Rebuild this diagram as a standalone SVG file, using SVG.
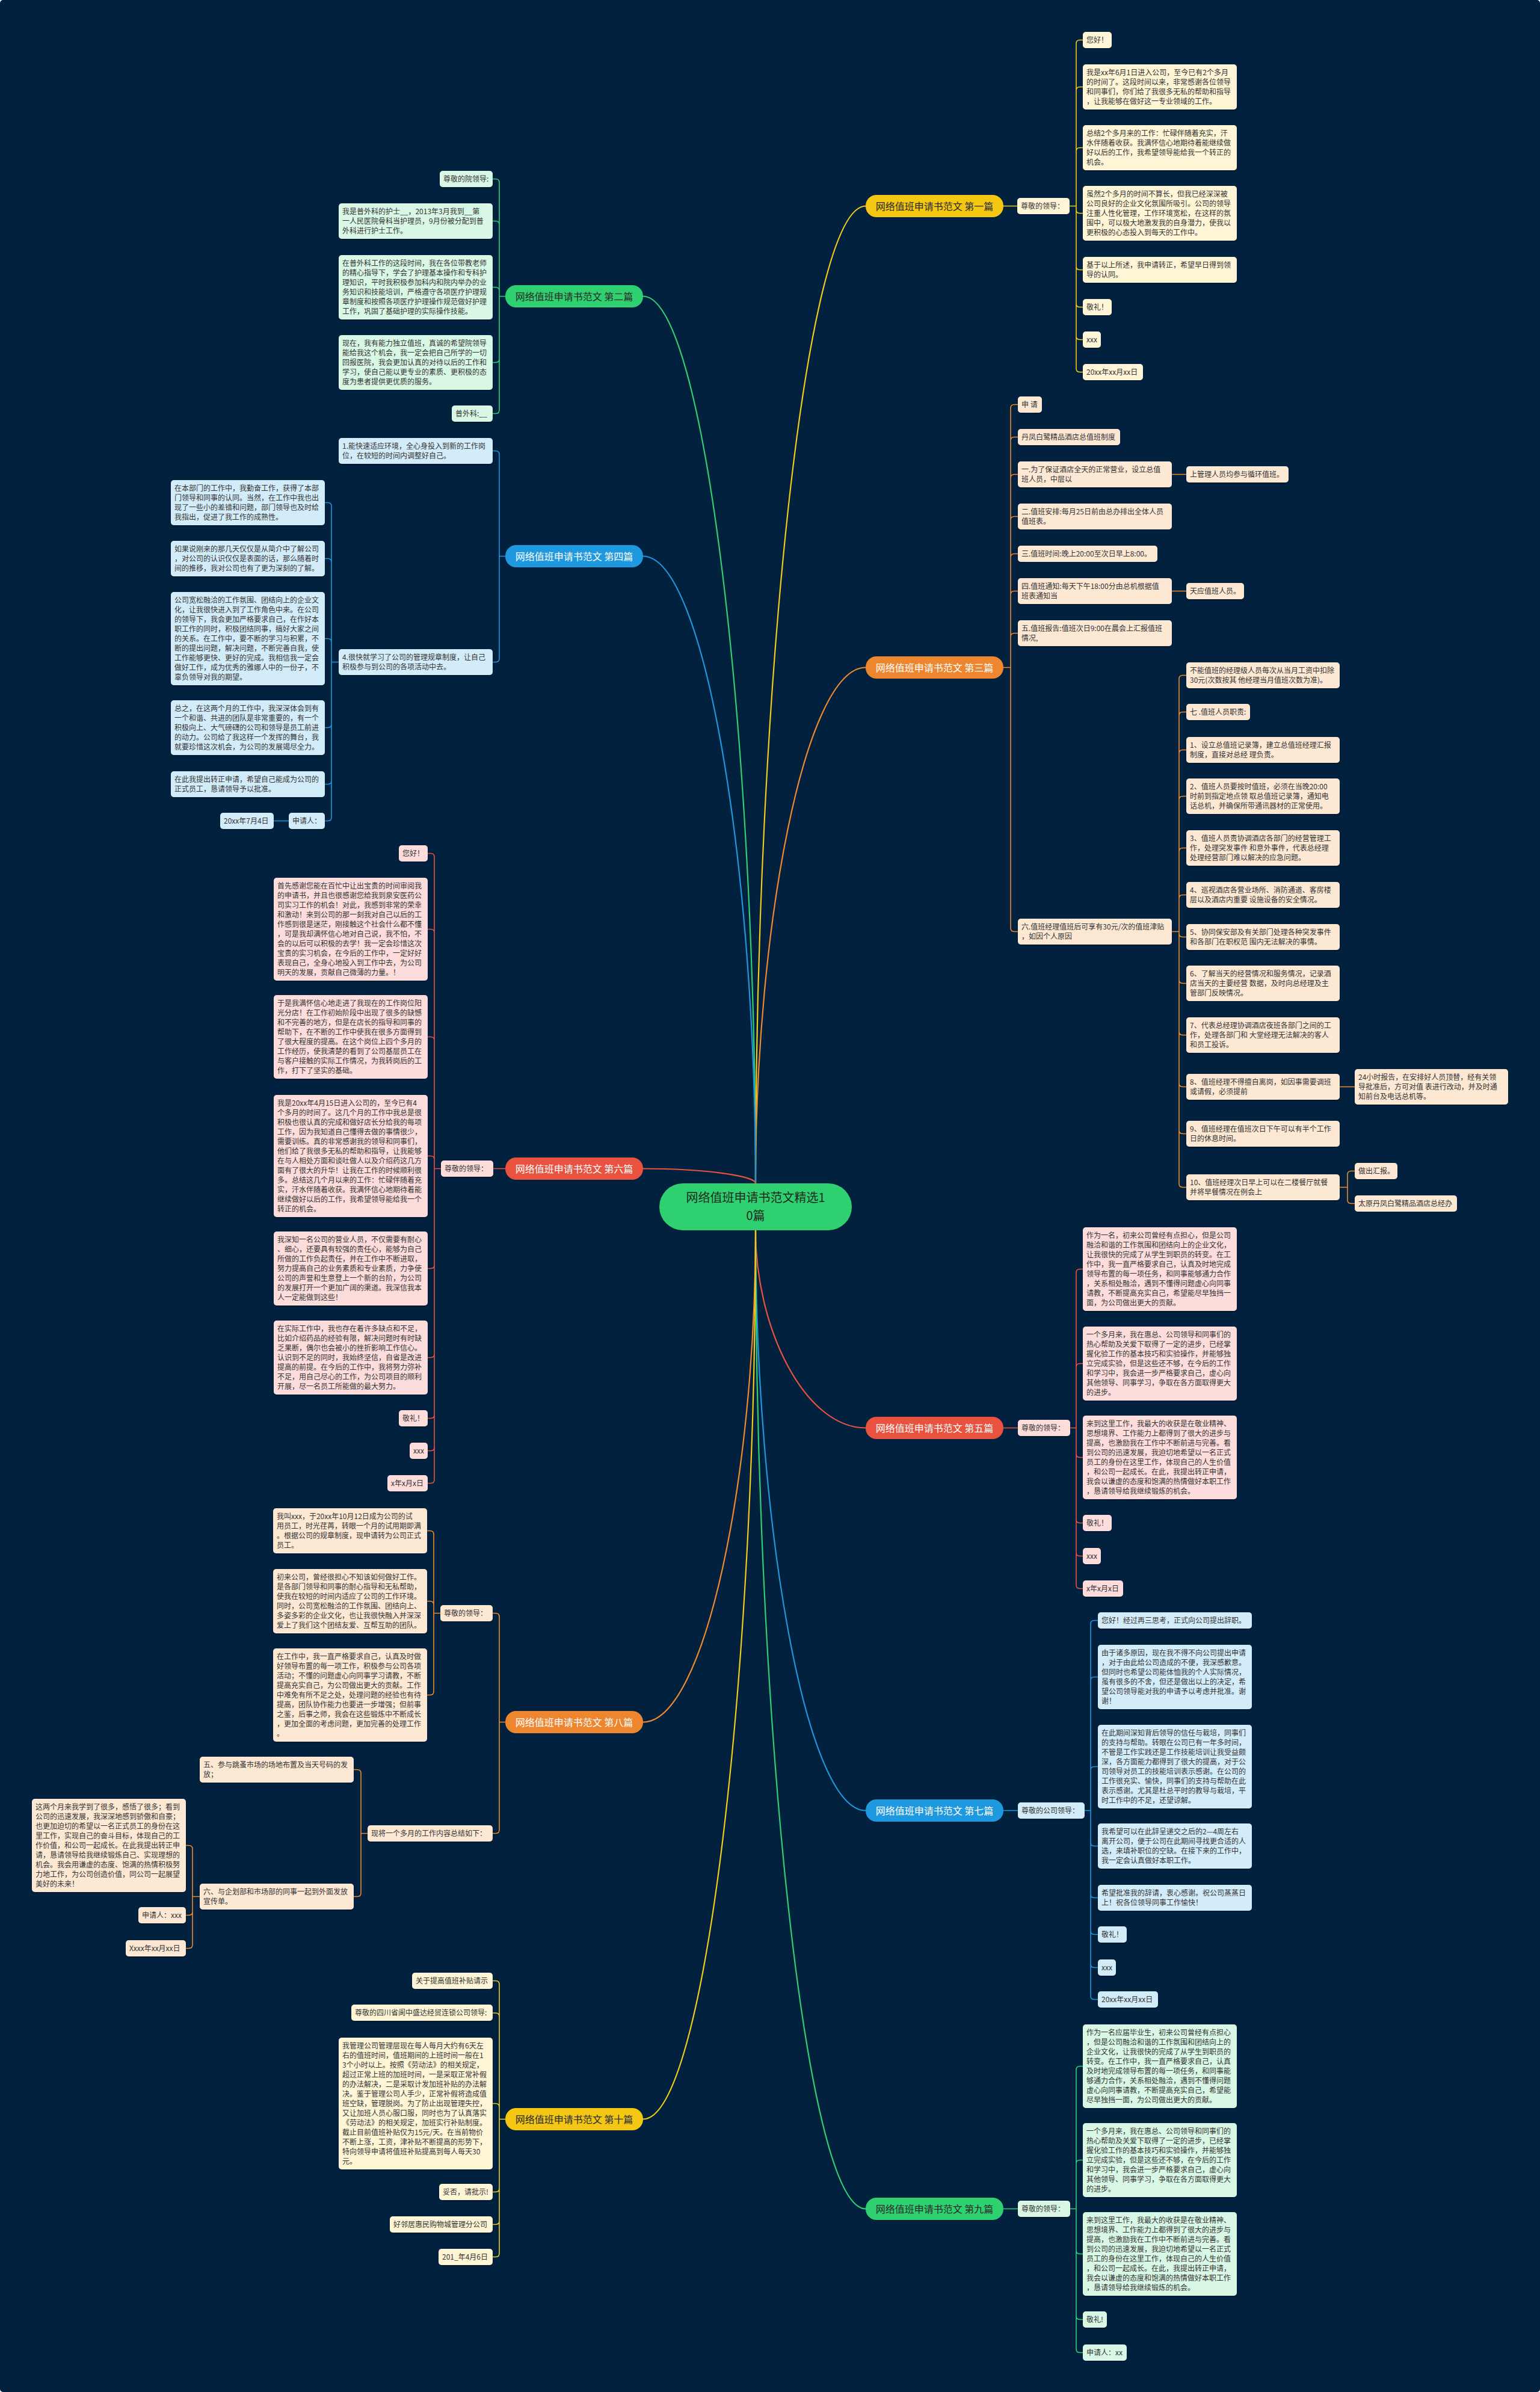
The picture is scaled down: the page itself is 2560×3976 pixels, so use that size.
<svg xmlns="http://www.w3.org/2000/svg" width="2560" height="3976" viewBox="0 0 2560 3976">
<defs>
<filter id="sh" x="-5%" y="-10%" width="110%" height="130%"><feDropShadow dx="0" dy="1.5" stdDeviation="1" flood-color="#000" flood-opacity="0.35"/></filter>
<style>
text{font-family:"Noto Sans CJK SC","Noto Sans",sans-serif}
.t{font-size:12px;fill:#333}
.bt{font-size:16px;text-anchor:middle}
.ct{font-size:20px;text-anchor:middle;fill:#1c2a22}
.dk{fill:#2a2a2a}.wh{fill:#ffffff}
rect{rx:5px}
.lf rect{filter:url(#sh)}
.ly{fill:#FEF5D6}.lo{fill:#FDE8D4}.lr{fill:#FDDDDB}.lb{fill:#D3ECF9}.lg{fill:#D9F7E5}
.by{fill:#F4C713}.bo{fill:#EE8630}.br{fill:#E8523E}.bb{fill:#1E98DF}.bg{fill:#2FD06F}
.c path{fill:none;stroke-width:1.6}
.m path{fill:none;stroke-width:2.2}
.cy{stroke:#F3CB19}.co{stroke:#EF8B2C}.cr{stroke:#E8533F}.cb{stroke:#2196DB}.cg{stroke:#32CF72}
</style>
</defs>
<rect x="0" y="0" width="2560" height="3976" fill="#02213F"/>

<g id="connectors">
<g class="m">
<path class="cy" d="M1256 1967C1256 1154.75 1338.35 342.5 1439 342.5"/>
<path class="co" d="M1256 1967C1256 1538.25 1338.35 1109.5 1439 1109.5"/>
<path class="cr" d="M1256 2045C1256 2209.25 1338.35 2373.5 1439 2373.5"/>
<path class="cb" d="M1256 2045C1256 2527.25 1338.35 3009.5 1439 3009.5"/>
<path class="cg" d="M1256 2045C1256 2858.25 1338.35 3671.5 1439 3671.5"/>
<path class="cg" d="M1256 1967C1256 1229.75 1171.85 492.5 1069 492.5"/>
<path class="cb" d="M1256 1967C1256 1445.75 1171.85 924.5 1069 924.5"/>
<path class="cr" d="M1256 1967C1256 1954.75 1171.85 1942.5 1069 1942.5"/>
<path class="co" d="M1256 2045C1256 2453.75 1171.85 2862.5 1069 2862.5"/>
<path class="cy" d="M1256 2045C1256 2783.75 1171.85 3522.5 1069 3522.5"/>
</g>
<g class="c">
<!-- branch 1 -->
<path class="cy" d="M1668 342.5H1691M1778 342.5H1789"/>
<path class="cy" d="M1789 342.5V72.5Q1789 66.5 1795 66.5H1800M1789 342.5V150.5Q1789 144.5 1795 144.5H1800M1789 342.5V251.5Q1789 245.5 1795 245.5H1800M1789 342.5V348.5Q1789 354.5 1795 354.5H1800M1789 342.5V442.5Q1789 448.5 1795 448.5H1800M1789 342.5V504.5Q1789 510.5 1795 510.5H1800M1789 342.5V558.5Q1789 564.5 1795 564.5H1800M1789 342.5V612.5Q1789 618.5 1795 618.5H1800"/>
<!-- branch 3 -->
<path class="co" d="M1668 1109.5H1680M1680 1109.5V678.5Q1680 672.5 1686 672.5H1692M1680 1109.5V732.5Q1680 726.5 1686 726.5H1692M1680 1109.5V794.5Q1680 788.5 1686 788.5H1692M1680 1109.5V864.5Q1680 858.5 1686 858.5H1692M1680 1109.5V926.5Q1680 920.5 1686 920.5H1692M1680 1109.5V988.5Q1680 982.5 1686 982.5H1692M1680 1109.5V1058.5Q1680 1052.5 1686 1052.5H1692M1680 1109.5V1542.5Q1680 1548.5 1686 1548.5H1692"/>
<path class="co" d="M1948 788.5H1972M1948 982.5H1972M1948 1548.5H1960M2227 1806.5H2252M2227 1973.5H2240"/>
<path class="co" d="M1960 1548.5V1128.5Q1960 1122.5 1966 1122.5H1972M1960 1548.5V1189.5Q1960 1183.5 1966 1183.5H1972M1960 1548.5V1252.5Q1960 1246.5 1966 1246.5H1972M1960 1548.5V1329.5Q1960 1323.5 1966 1323.5H1972M1960 1548.5V1415.5Q1960 1409.5 1966 1409.5H1972M1960 1548.5V1493.5Q1960 1487.5 1966 1487.5H1972M1960 1548.5V1551.5Q1960 1557.5 1966 1557.5H1972M1960 1548.5V1628.5Q1960 1634.5 1966 1634.5H1972M1960 1548.5V1714.5Q1960 1720.5 1966 1720.5H1972M1960 1548.5V1800.5Q1960 1806.5 1966 1806.5H1972M1960 1548.5V1878.5Q1960 1884.5 1966 1884.5H1972M1960 1548.5V1967.5Q1960 1973.5 1966 1973.5H1972"/>
<path class="co" d="M2240 1973.5V1952.5Q2240 1946.5 2246 1946.5H2252M2240 1973.5V1994.5Q2240 2000.5 2246 2000.5H2252"/>
<!-- branch 5 -->
<path class="cr" d="M1668 2373.5H1692M1779 2373.5H1789M1789 2373.5V2115.5Q1789 2109.5 1795 2109.5H1800M1789 2373.5V2272.5Q1789 2266.5 1795 2266.5H1800M1789 2373.5V2416.5Q1789 2422.5 1795 2422.5H1800M1789 2373.5V2525.5Q1789 2531.5 1795 2531.5H1800M1789 2373.5V2580.5Q1789 2586.5 1795 2586.5H1800M1789 2373.5V2634.5Q1789 2640.5 1795 2640.5H1800"/>
<!-- branch 7 -->
<path class="cb" d="M1668 3009.5H1692M1803 3009.5H1813M1813 3009.5V2699.5Q1813 2693.5 1819 2693.5H1825M1813 3009.5V2793.5Q1813 2787.5 1819 2787.5H1825M1813 3009.5V2942.5Q1813 2936.5 1819 2936.5H1825M1813 3009.5V3062.5Q1813 3068.5 1819 3068.5H1825M1813 3009.5V3148.5Q1813 3154.5 1819 3154.5H1825M1813 3009.5V3209.5Q1813 3215.5 1819 3215.5H1825M1813 3009.5V3264.5Q1813 3270.5 1819 3270.5H1825M1813 3009.5V3317.5Q1813 3323.5 1819 3323.5H1825"/>
<!-- branch 9 -->
<path class="cg" d="M1668 3671.5H1692M1779 3671.5H1789M1789 3671.5V3440.5Q1789 3434.5 1795 3434.5H1800M1789 3671.5V3596.5Q1789 3590.5 1795 3590.5H1800M1789 3671.5V3740.5Q1789 3746.5 1795 3746.5H1800M1789 3671.5V3849.5Q1789 3855.5 1795 3855.5H1800M1789 3671.5V3904.5Q1789 3910.5 1795 3910.5H1800"/>
<!-- branch 2 -->
<path class="cg" d="M840 492.5H830M830 492.5V303.5Q830 297.5 824 297.5H819M830 492.5V373.5Q830 367.5 824 367.5H819M830 492.5V483.5Q830 477.5 824 477.5H819M830 492.5V596.5Q830 602.5 824 602.5H819M830 492.5V681.5Q830 687.5 824 687.5H819"/>
<!-- branch 4 -->
<path class="cb" d="M840 924.5H830M830 924.5V755.5Q830 749.5 824 749.5H819M830 924.5V1094.5Q830 1100.5 824 1100.5H819"/>
<path class="cb" d="M563 1100.5H551M551 1100.5V841.5Q551 835.5 545 835.5H540M551 1100.5V934.5Q551 928.5 545 928.5H540M551 1100.5V1067.5Q551 1061.5 545 1061.5H540M551 1100.5V1203.5Q551 1209.5 545 1209.5H540M551 1100.5V1297.5Q551 1303.5 545 1303.5H540M551 1100.5V1358.5Q551 1364.5 545 1364.5H540M480 1364.5H455"/>
<!-- branch 6 -->
<path class="cr" d="M840 1942.5H820M733 1942.5H722M722 1942.5V1424.5Q722 1418.5 716 1418.5H711M722 1942.5V1550.5Q722 1544.5 716 1544.5H711M722 1942.5V1729.5Q722 1723.5 716 1723.5H711M722 1942.5V1927.5Q722 1921.5 716 1921.5H711M722 1942.5V2102.5Q722 2108.5 716 2108.5H711M722 1942.5V2250.5Q722 2256.5 716 2256.5H711M722 1942.5V2351.5Q722 2357.5 716 2357.5H711M722 1942.5V2405.5Q722 2411.5 716 2411.5H711M722 1942.5V2459.5Q722 2465.5 716 2465.5H711"/>
<!-- branch 8 -->
<path class="co" d="M840 2862.5H830M830 2862.5V2687.5Q830 2681.5 824 2681.5H819M830 2862.5V3041.5Q830 3047.5 824 3047.5H819"/>
<path class="co" d="M732 2681.5H721M721 2681.5V2550.5Q721 2544.5 715 2544.5H710M721 2681.5V2667.5Q721 2661.5 715 2661.5H710M721 2681.5V2811.5Q721 2817.5 715 2817.5H710"/>
<path class="co" d="M611 3047.5H600M600 3047.5V2947.5Q600 2941.5 594 2941.5H588M600 3047.5V3146.5Q600 3152.5 594 3152.5H588"/>
<path class="co" d="M332 3152.5H320M320 3152.5V3073.5Q320 3067.5 314 3067.5H309M320 3152.5V3177.5Q320 3183.5 314 3183.5H309M320 3152.5V3232.5Q320 3238.5 314 3238.5H309"/>
<!-- branch 10 -->
<path class="cy" d="M840 3522.5H830M830 3522.5V3298.5Q830 3292.5 824 3292.5H819M830 3522.5V3352Q830 3346 824 3346H819M830 3522.5V3502.5Q830 3496.5 824 3496.5H819M830 3522.5V3637.5Q830 3643.5 824 3643.5H819M830 3522.5V3691.5Q830 3697.5 824 3697.5H819M830 3522.5V3745.5Q830 3751.5 824 3751.5H819"/>
</g>
</g>

<g id="center"><rect class="bg" x="1096" y="1967" width="320" height="78" style="rx:39px"/><text class="ct"><tspan x="1256" y="1998">网络值班申请书范文精选1</tspan><tspan x="1256" y="2028">0篇</tspan></text></g>

<!-- Branch 1 -->
<g id="b1"><rect class="by" x="1439" y="324" width="229" height="37" style="rx:18px"/><text class="bt dk" x="1553.5" y="348.5">网络值班申请书范文 第一篇</text></g>
<g class="lf">
<g id="b1-a"><rect class="ly" x="1691" y="329" width="87" height="27"/><text class="t" x="1697" y="347">尊敬的领导：</text></g>
<g id="b1-1"><rect class="ly" x="1800" y="53" width="48" height="27"/><text class="t" x="1806" y="71">您好！</text></g>
<g id="b1-2"><rect class="ly" x="1800" y="107" width="256" height="75"/><text class="t"><tspan x="1806" y="125">我是xx年6月1日进入公司，至今已有2个多月</tspan><tspan x="1806" y="141">的时间了。这段时间以来，非常感谢各位领导</tspan><tspan x="1806" y="157">和同事们，你们给了我很多无私的帮助和指导</tspan><tspan x="1806" y="173">，让我能够在做好这一专业领域的工作。</tspan></text></g>
<g id="b1-3"><rect class="ly" x="1800" y="208" width="256" height="75"/><text class="t"><tspan x="1806" y="226">总结2个多月来的工作：忙碌伴随着充实，汗</tspan><tspan x="1806" y="242">水伴随着收获。我满怀信心地期待着能继续做</tspan><tspan x="1806" y="258">好以后的工作，我希望领导能给我一个转正的</tspan><tspan x="1806" y="274">机会。</tspan></text></g>
<g id="b1-4"><rect class="ly" x="1800" y="309" width="256" height="91"/><text class="t"><tspan x="1806" y="327">虽然2个多月的时间不算长，但我已经深深被</tspan><tspan x="1806" y="343">公司良好的企业文化氛围所吸引。公司的领导</tspan><tspan x="1806" y="359">注重人性化管理，工作环境宽松，在这样的氛</tspan><tspan x="1806" y="375">围中，可以极大地激发我的自身潜力，使我以</tspan><tspan x="1806" y="391">更积极的心态投入到每天的工作中。</tspan></text></g>
<g id="b1-5"><rect class="ly" x="1800" y="427" width="256" height="43"/><text class="t"><tspan x="1806" y="445">基于以上所述，我申请转正，希望早日得到领</tspan><tspan x="1806" y="461">导的认同。</tspan></text></g>
<g id="b1-6"><rect class="ly" x="1800" y="497" width="48" height="27"/><text class="t" x="1806" y="515">敬礼！</text></g>
<g id="b1-7"><rect class="ly" x="1800" y="551" width="30" height="27"/><text class="t" x="1806" y="569">xxx</text></g>
<g id="b1-8"><rect class="ly" x="1800" y="605" width="100" height="27"/><text class="t" x="1806" y="623">20xx年xx月xx日</text></g>
</g>

<!-- Branch 3 -->
<g id="b3"><rect class="bo" x="1439" y="1091" width="229" height="37" style="rx:18px"/><text class="bt wh" x="1553.5" y="1115.5">网络值班申请书范文 第三篇</text></g>
<g class="lf">
<g id="b3-1"><rect class="lo" x="1692" y="659" width="40" height="27"/><text class="t" x="1698" y="677">申 请</text></g>
<g id="b3-2"><rect class="lo" x="1692" y="713" width="170" height="27"/><text class="t" x="1698" y="731">丹凤白鹭精品酒店总值班制度</text></g>
<g id="b3-3"><rect class="lo" x="1692" y="767" width="256" height="43"/><text class="t"><tspan x="1698" y="785">一.为了保证酒店全天的正常营业，设立总值</tspan><tspan x="1698" y="801">班人员，中层以</tspan></text></g>
<g id="b3-3a"><rect class="lo" x="1972" y="775" width="170" height="27"/><text class="t" x="1978" y="793">上管理人员均参与循环值班。</text></g>
<g id="b3-4"><rect class="lo" x="1692" y="837" width="256" height="43"/><text class="t"><tspan x="1698" y="855">二.值班安排:每月25日前由总办排出全体人员</tspan><tspan x="1698" y="871">值班表。</tspan></text></g>
<g id="b3-5"><rect class="lo" x="1692" y="907" width="232" height="27"/><text class="t" x="1698" y="925">三.值班时间:晚上20:00至次日早上8:00。</text></g>
<g id="b3-6"><rect class="lo" x="1692" y="961" width="256" height="43"/><text class="t"><tspan x="1698" y="979">四.值班通知:每天下午18:00分由总机根据值</tspan><tspan x="1698" y="995">班表通知当</tspan></text></g>
<g id="b3-6a"><rect class="lo" x="1972" y="969" width="96" height="27"/><text class="t" x="1978" y="987">天应值班人员。</text></g>
<g id="b3-7"><rect class="lo" x="1692" y="1031" width="256" height="43"/><text class="t"><tspan x="1698" y="1049">五.值班报告:值班次日9:00在晨会上汇报值班</tspan><tspan x="1698" y="1065">情况,</tspan></text></g>
<g id="b3-8"><rect class="lo" x="1692" y="1527" width="256" height="43"/><text class="t"><tspan x="1698" y="1545">六.值班经理值班后可享有30元/次的值班津贴</tspan><tspan x="1698" y="1561">，如因个人原因</tspan></text></g>
<g id="b3-8a"><rect class="lo" x="1972" y="1101" width="255" height="43"/><text class="t"><tspan x="1978" y="1119">不能值班的经理级人员每次从当月工资中扣除</tspan><tspan x="1978" y="1135">30元(次数按其 他经理当月值班次数为准)。</tspan></text></g>
<g id="b3-8b"><rect class="lo" x="1972" y="1170" width="106" height="27"/><text class="t" x="1978" y="1188">七 .值班人员职责:</text></g>
<g id="b3-8c"><rect class="lo" x="1972" y="1225" width="255" height="43"/><text class="t"><tspan x="1978" y="1243">1、设立总值班记录簿，建立总值班经理汇报</tspan><tspan x="1978" y="1259">制度，直接对总经 理负责。</tspan></text></g>
<g id="b3-8d"><rect class="lo" x="1972" y="1294" width="255" height="59"/><text class="t"><tspan x="1978" y="1312">2、值班人员要按时值班，必须在当晚20:00</tspan><tspan x="1978" y="1328">时前到指定地点领 取总值班记录簿，通知电</tspan><tspan x="1978" y="1344">话总机，并确保所带通讯器材的正常使用。</tspan></text></g>
<g id="b3-8e"><rect class="lo" x="1972" y="1380" width="255" height="59"/><text class="t"><tspan x="1978" y="1398">3、值班人员责协调酒店各部门的经营管理工</tspan><tspan x="1978" y="1414">作，处理突发事件 和意外事件，代表总经理</tspan><tspan x="1978" y="1430">处理经营部门难以解决的应急问题。</tspan></text></g>
<g id="b3-8f"><rect class="lo" x="1972" y="1466" width="255" height="43"/><text class="t"><tspan x="1978" y="1484">4、巡视酒店各营业场所、消防通道、客房楼</tspan><tspan x="1978" y="1500">层以及酒店内重要 设施设备的安全情况。</tspan></text></g>
<g id="b3-8g"><rect class="lo" x="1972" y="1536" width="255" height="43"/><text class="t"><tspan x="1978" y="1554">5、协同保安部及有关部门处理各种突发事件</tspan><tspan x="1978" y="1570">和各部门在职权范 围内无法解决的事情。</tspan></text></g>
<g id="b3-8h"><rect class="lo" x="1972" y="1605" width="255" height="59"/><text class="t"><tspan x="1978" y="1623">6、了解当天的经营情况和服务情况，记录酒</tspan><tspan x="1978" y="1639">店当天的主要经营 数据，及时向总经理及主</tspan><tspan x="1978" y="1655">管部门反映情况。</tspan></text></g>
<g id="b3-8i"><rect class="lo" x="1972" y="1691" width="255" height="59"/><text class="t"><tspan x="1978" y="1709">7、代表总经理协调酒店夜班各部门之间的工</tspan><tspan x="1978" y="1725">作，处理各部门和 大堂经理无法解决的客人</tspan><tspan x="1978" y="1741">和员工投诉。</tspan></text></g>
<g id="b3-8j"><rect class="lo" x="1972" y="1785" width="255" height="43"/><text class="t"><tspan x="1978" y="1803">8、值班经理不得擅自离岗，如因事需要调班</tspan><tspan x="1978" y="1819">或请假，必须提前</tspan></text></g>
<g id="b3-8j1"><rect class="lo" x="2252" y="1777" width="255" height="59"/><text class="t"><tspan x="2258" y="1795">24小时报告，在安排好人员顶替，经有关领</tspan><tspan x="2258" y="1811">导批准后，方可对值 表进行改动，并及时通</tspan><tspan x="2258" y="1827">知前台及电话总机等。</tspan></text></g>
<g id="b3-8k"><rect class="lo" x="1972" y="1863" width="255" height="43"/><text class="t"><tspan x="1978" y="1881">9、值班经理在值班次日下午可以有半个工作</tspan><tspan x="1978" y="1897">日的休息时间。</tspan></text></g>
<g id="b3-8l"><rect class="lo" x="1972" y="1952" width="255" height="43"/><text class="t"><tspan x="1978" y="1970">10、值班经理次日早上可以在二楼餐厅就餐</tspan><tspan x="1978" y="1986">并将早餐情况在例会上</tspan></text></g>
<g id="b3-8l1"><rect class="lo" x="2252" y="1933" width="71" height="27"/><text class="t" x="2258" y="1951">做出汇报。</text></g>
<g id="b3-8l2"><rect class="lo" x="2252" y="1987" width="170" height="27"/><text class="t" x="2258" y="2005">太原丹凤白鹭精品酒店总经办</text></g>
</g>

<!-- Branch 5 -->
<g id="b5"><rect class="br" x="1439" y="2355" width="229" height="37" style="rx:18px"/><text class="bt wh" x="1553.5" y="2379.5">网络值班申请书范文 第五篇</text></g>
<g class="lf">
<g id="b5-a"><rect class="lr" x="1692" y="2360" width="87" height="27"/><text class="t" x="1698" y="2378">尊敬的领导：</text></g>
<g id="b5-1"><rect class="lr" x="1800" y="2040" width="256" height="139"/><text class="t"><tspan x="1806" y="2058">作为一名，初来公司曾经有点担心，但是公司</tspan><tspan x="1806" y="2074">融洽和谐的工作氛围和团结向上的企业文化，</tspan><tspan x="1806" y="2090">让我很快的完成了从学生到职员的转变。在工</tspan><tspan x="1806" y="2106">作中，我一直严格要求自己，认真及时地完成</tspan><tspan x="1806" y="2122">领导布置的每一项任务，和同事能够通力合作</tspan><tspan x="1806" y="2138">，关系相处融洽，遇到不懂得问题虚心向同事</tspan><tspan x="1806" y="2154">请教，不断提高充实自己，希望能尽早独挡一</tspan><tspan x="1806" y="2170">面，为公司做出更大的贡献。</tspan></text></g>
<g id="b5-2"><rect class="lr" x="1800" y="2205" width="256" height="123"/><text class="t"><tspan x="1806" y="2223">一个多月来，我在惠总、公司领导和同事们的</tspan><tspan x="1806" y="2239">热心帮助及关爱下取得了一定的进步，已经掌</tspan><tspan x="1806" y="2255">握化验工作的基本技巧和实验操作，并能够独</tspan><tspan x="1806" y="2271">立完成实验，但是这些还不够，在今后的工作</tspan><tspan x="1806" y="2287">和学习中，我会进一步严格要求自己，虚心向</tspan><tspan x="1806" y="2303">其他领导、同事学习，争取在各方面取得更大</tspan><tspan x="1806" y="2319">的进步。</tspan></text></g>
<g id="b5-3"><rect class="lr" x="1800" y="2353" width="256" height="139"/><text class="t"><tspan x="1806" y="2371">来到这里工作，我最大的收获是在敬业精神、</tspan><tspan x="1806" y="2387">思想境界、工作能力上都得到了很大的进步与</tspan><tspan x="1806" y="2403">提高，也激励我在工作中不断前进与完善。看</tspan><tspan x="1806" y="2419">到公司的迅速发展，我迫切地希望以一名正式</tspan><tspan x="1806" y="2435">员工的身份在这里工作，体现自己的人生价值</tspan><tspan x="1806" y="2451">，和公司一起成长。在此，我提出转正申请，</tspan><tspan x="1806" y="2467">我会以谦虚的态度和饱满的热情做好本职工作</tspan><tspan x="1806" y="2483">，恳请领导给我继续锻炼的机会。</tspan></text></g>
<g id="b5-4"><rect class="lr" x="1800" y="2518" width="48" height="27"/><text class="t" x="1806" y="2536">敬礼！</text></g>
<g id="b5-5"><rect class="lr" x="1800" y="2573" width="30" height="27"/><text class="t" x="1806" y="2591">xxx</text></g>
<g id="b5-6"><rect class="lr" x="1800" y="2627" width="67" height="27"/><text class="t" x="1806" y="2645">x年x月x日</text></g>
</g>

<!-- Branch 7 -->
<g id="b7"><rect class="bb" x="1439" y="2991" width="229" height="37" style="rx:18px"/><text class="bt wh" x="1553.5" y="3015.5">网络值班申请书范文 第七篇</text></g>
<g class="lf">
<g id="b7-a"><rect class="lb" x="1692" y="2996" width="111" height="27"/><text class="t" x="1698" y="3014">尊敬的公司领导：</text></g>
<g id="b7-1"><rect class="lb" x="1825" y="2680" width="256" height="27"/><text class="t" x="1831" y="2698">您好！经过再三思考，正式向公司提出辞职。</text></g>
<g id="b7-2"><rect class="lb" x="1825" y="2734" width="256" height="107"/><text class="t"><tspan x="1831" y="2752">由于诸多原因，现在我不得不向公司提出申请</tspan><tspan x="1831" y="2768">，对于由此给公司造成的不便，我深感歉意。</tspan><tspan x="1831" y="2784">但同时也希望公司能体恤我的个人实际情况，</tspan><tspan x="1831" y="2800">虽有很多的不舍，但还是做出以上的决定，希</tspan><tspan x="1831" y="2816">望公司领导能对我的申请予以考虑并批准。谢</tspan><tspan x="1831" y="2832">谢！</tspan></text></g>
<g id="b7-3"><rect class="lb" x="1825" y="2867" width="256" height="139"/><text class="t"><tspan x="1831" y="2885">在此期间深知背后领导的信任与栽培，同事们</tspan><tspan x="1831" y="2901">的支持与帮助。转眼在公司已有一年多时间，</tspan><tspan x="1831" y="2917">不管是工作实践还是工作技能培训让我受益颇</tspan><tspan x="1831" y="2933">深，各方面能力都得到了很大的提高，对于公</tspan><tspan x="1831" y="2949">司领导对员工的技能培训表示感谢。在公司的</tspan><tspan x="1831" y="2965">工作很充实、愉快，同事们的支持与帮助在此</tspan><tspan x="1831" y="2981">表示感谢。尤其是杜总平时的教导与栽培，平</tspan><tspan x="1831" y="2997">时工作中的不足，还望谅解。</tspan></text></g>
<g id="b7-4"><rect class="lb" x="1825" y="3031" width="256" height="75"/><text class="t"><tspan x="1831" y="3049">我希望可以在此辞呈递交之后的2—4周左右</tspan><tspan x="1831" y="3065">离开公司，便于公司在此期间寻找更合适的人</tspan><tspan x="1831" y="3081">选，来填补职位的空缺。在接下来的工作中，</tspan><tspan x="1831" y="3097">我一定会认真做好本职工作。</tspan></text></g>
<g id="b7-5"><rect class="lb" x="1825" y="3133" width="256" height="43"/><text class="t"><tspan x="1831" y="3151">希望批准我的辞请，衷心感谢。祝公司蒸蒸日</tspan><tspan x="1831" y="3167">上！祝各位领导同事工作愉快！</tspan></text></g>
<g id="b7-6"><rect class="lb" x="1825" y="3202" width="48" height="27"/><text class="t" x="1831" y="3220">敬礼！</text></g>
<g id="b7-7"><rect class="lb" x="1825" y="3257" width="30" height="27"/><text class="t" x="1831" y="3275">xxx</text></g>
<g id="b7-8"><rect class="lb" x="1825" y="3310" width="100" height="27"/><text class="t" x="1831" y="3328">20xx年xx月xx日</text></g>
</g>

<!-- Branch 9 -->
<g id="b9"><rect class="bg" x="1439" y="3653" width="229" height="37" style="rx:18px"/><text class="bt dk" x="1553.5" y="3677.5">网络值班申请书范文 第九篇</text></g>
<g class="lf">
<g id="b9-a"><rect class="lg" x="1692" y="3658" width="87" height="27"/><text class="t" x="1698" y="3676">尊敬的领导：</text></g>
<g id="b9-1"><rect class="lg" x="1800" y="3365" width="256" height="139"/><text class="t"><tspan x="1806" y="3383">作为一名应届毕业生，初来公司曾经有点担心</tspan><tspan x="1806" y="3399">，但是公司融洽和谐的工作氛围和团结向上的</tspan><tspan x="1806" y="3415">企业文化，让我很快的完成了从学生到职员的</tspan><tspan x="1806" y="3431">转变。在工作中，我一直严格要求自己，认真</tspan><tspan x="1806" y="3447">及时地完成领导布置的每一项任务，和同事能</tspan><tspan x="1806" y="3463">够通力合作，关系相处融洽，遇到不懂得问题</tspan><tspan x="1806" y="3479">虚心向同事请教，不断提高充实自己，希望能</tspan><tspan x="1806" y="3495">尽早独挡一面，为公司做出更大的贡献。</tspan></text></g>
<g id="b9-2"><rect class="lg" x="1800" y="3529" width="256" height="123"/><text class="t"><tspan x="1806" y="3547">一个多月来，我在惠总、公司领导和同事们的</tspan><tspan x="1806" y="3563">热心帮助及关爱下取得了一定的进步，已经掌</tspan><tspan x="1806" y="3579">握化验工作的基本技巧和实验操作，并能够独</tspan><tspan x="1806" y="3595">立完成实验，但是这些还不够，在今后的工作</tspan><tspan x="1806" y="3611">和学习中，我会进一步严格要求自己，虚心向</tspan><tspan x="1806" y="3627">其他领导、同事学习，争取在各方面取得更大</tspan><tspan x="1806" y="3643">的进步。</tspan></text></g>
<g id="b9-3"><rect class="lg" x="1800" y="3677" width="256" height="139"/><text class="t"><tspan x="1806" y="3695">来到这里工作，我最大的收获是在敬业精神、</tspan><tspan x="1806" y="3711">思想境界、工作能力上都得到了很大的进步与</tspan><tspan x="1806" y="3727">提高，也激励我在工作中不断前进与完善。看</tspan><tspan x="1806" y="3743">到公司的迅速发展，我迫切地希望以一名正式</tspan><tspan x="1806" y="3759">员工的身份在这里工作，体现自己的人生价值</tspan><tspan x="1806" y="3775">，和公司一起成长。在此，我提出转正申请，</tspan><tspan x="1806" y="3791">我会以谦虚的态度和饱满的热情做好本职工作</tspan><tspan x="1806" y="3807">，恳请领导给我继续锻炼的机会。</tspan></text></g>
<g id="b9-4"><rect class="lg" x="1800" y="3842" width="40" height="27"/><text class="t" x="1806" y="3860">敬礼!</text></g>
<g id="b9-5"><rect class="lg" x="1800" y="3897" width="73" height="27"/><text class="t" x="1806" y="3915">申请人：xx</text></g>
</g>

<!-- Branch 2 -->
<g id="b2"><rect class="bg" x="840" y="474" width="229" height="37" style="rx:18px"/><text class="bt dk" x="954.5" y="498.5">网络值班申请书范文 第二篇</text></g>
<g class="lf">
<g id="b2-1"><rect class="lg" x="731" y="284" width="88" height="27"/><text class="t" x="737" y="302">尊敬的院领导:</text></g>
<g id="b2-2"><rect class="lg" x="563" y="338" width="256" height="59"/><text class="t"><tspan x="569" y="356">我是普外科的护士__，2013年3月我到__第</tspan><tspan x="569" y="372">一人民医院骨科当护理员，9月份被分配到普</tspan><tspan x="569" y="388">外科进行护士工作。</tspan></text></g>
<g id="b2-3"><rect class="lg" x="563" y="424" width="256" height="107"/><text class="t"><tspan x="569" y="442">在普外科工作的这段时间，我在各位带教老师</tspan><tspan x="569" y="458">的精心指导下，学会了护理基本操作和专科护</tspan><tspan x="569" y="474">理知识，平时我积极参加科内和院内举办的业</tspan><tspan x="569" y="490">务知识和技能培训，严格遵守各项医疗护理规</tspan><tspan x="569" y="506">章制度和按照各项医疗护理操作规范做好护理</tspan><tspan x="569" y="522">工作，巩固了基础护理的实际操作技能。</tspan></text></g>
<g id="b2-4"><rect class="lg" x="563" y="557" width="256" height="91"/><text class="t"><tspan x="569" y="575">现在，我有能力独立值班，真诚的希望院领导</tspan><tspan x="569" y="591">能给我这个机会，我一定会把自己所学的一切</tspan><tspan x="569" y="607">回报医院，我会更加认真的对待以后的工作和</tspan><tspan x="569" y="623">学习，使自己能以更专业的素质、更积极的态</tspan><tspan x="569" y="639">度为患者提供更优质的服务。</tspan></text></g>
<g id="b2-5"><rect class="lg" x="751" y="674" width="68" height="27"/><text class="t" x="757" y="692">普外科:__</text></g>
</g>

<!-- Branch 4 -->
<g id="b4"><rect class="bb" x="840" y="906" width="229" height="37" style="rx:18px"/><text class="bt wh" x="954.5" y="930.5">网络值班申请书范文 第四篇</text></g>
<g class="lf">
<g id="b4-1"><rect class="lb" x="563" y="728" width="256" height="43"/><text class="t"><tspan x="569" y="746">1.能快速适应环境，全心身投入到新的工作岗</tspan><tspan x="569" y="762">位，在较短的时间内调整好自己。</tspan></text></g>
<g id="b4-2"><rect class="lb" x="563" y="1079" width="256" height="43"/><text class="t"><tspan x="569" y="1097">4.很快就学习了公司的管理规章制度，让自己</tspan><tspan x="569" y="1113">积极参与到公司的各项活动中去。</tspan></text></g>
<g id="b4-2a"><rect class="lb" x="284" y="798" width="256" height="75"/><text class="t"><tspan x="290" y="816">在本部门的工作中，我勤奋工作，获得了本部</tspan><tspan x="290" y="832">门领导和同事的认同。当然，在工作中我也出</tspan><tspan x="290" y="848">现了一些小的差错和问题，部门领导也及时给</tspan><tspan x="290" y="864">我指出，促进了我工作的成熟性。</tspan></text></g>
<g id="b4-2b"><rect class="lb" x="284" y="899" width="256" height="59"/><text class="t"><tspan x="290" y="917">如果说刚来的那几天仅仅是从简介中了解公司</tspan><tspan x="290" y="933">，对公司的认识仅仅是表面的话，那么随着时</tspan><tspan x="290" y="949">间的推移，我对公司也有了更为深刻的了解。</tspan></text></g>
<g id="b4-2c"><rect class="lb" x="284" y="984" width="256" height="155"/><text class="t"><tspan x="290" y="1002">公司宽松融洽的工作氛围、团结向上的企业文</tspan><tspan x="290" y="1018">化，让我很快进入到了工作角色中来。在公司</tspan><tspan x="290" y="1034">的领导下，我会更加严格要求自己，在作好本</tspan><tspan x="290" y="1050">职工作的同时，积极团结同事，搞好大家之间</tspan><tspan x="290" y="1066">的关系。在工作中，要不断的学习与积累，不</tspan><tspan x="290" y="1082">断的提出问题，解决问题，不断完善自我，使</tspan><tspan x="290" y="1098">工作能够更快、更好的完成。我相信我一定会</tspan><tspan x="290" y="1114">做好工作，成为优秀的雅娜人中的一份子，不</tspan><tspan x="290" y="1130">辜负领导对我的期望。</tspan></text></g>
<g id="b4-2d"><rect class="lb" x="284" y="1164" width="256" height="91"/><text class="t"><tspan x="290" y="1182">总之，在这两个月的工作中，我深深体会到有</tspan><tspan x="290" y="1198">一个和谐、共进的团队是非常重要的，有一个</tspan><tspan x="290" y="1214">积极向上、大气磅礴的公司和领导是员工前进</tspan><tspan x="290" y="1230">的动力。公司给了我这样一个发挥的舞台，我</tspan><tspan x="290" y="1246">就要珍惜这次机会，为公司的发展竭尽全力。</tspan></text></g>
<g id="b4-2e"><rect class="lb" x="284" y="1282" width="256" height="43"/><text class="t"><tspan x="290" y="1300">在此我提出转正申请，希望自己能成为公司的</tspan><tspan x="290" y="1316">正式员工，恳请领导予以批准。</tspan></text></g>
<g id="b4-2f"><rect class="lb" x="480" y="1351" width="60" height="27"/><text class="t" x="486" y="1369">申请人：</text></g>
<g id="b4-2f1"><rect class="lb" x="366" y="1351" width="89" height="27"/><text class="t" x="372" y="1369">20xx年7月4日</text></g>
</g>

<!-- Branch 6 -->
<g id="b6"><rect class="br" x="840" y="1924" width="229" height="37" style="rx:18px"/><text class="bt wh" x="954.5" y="1948.5">网络值班申请书范文 第六篇</text></g>
<g class="lf">
<g id="b6-a"><rect class="lr" x="733" y="1929" width="87" height="27"/><text class="t" x="739" y="1947">尊敬的领导：</text></g>
<g id="b6-1"><rect class="lr" x="663" y="1405" width="48" height="27"/><text class="t" x="669" y="1423">您好！</text></g>
<g id="b6-2"><rect class="lr" x="455" y="1459" width="256" height="171"/><text class="t"><tspan x="461" y="1477">首先感谢您能在百忙中让出宝贵的时间审阅我</tspan><tspan x="461" y="1493">的申请书，并且也很感谢您给我到泉安医药公</tspan><tspan x="461" y="1509">司实习工作的机会！对此，我感到非常的荣幸</tspan><tspan x="461" y="1525">和激动！来到公司的那一刻我对自己以后的工</tspan><tspan x="461" y="1541">作感到很是迷茫，刚接触这个社会什么都不懂</tspan><tspan x="461" y="1557">，可是我却满怀信心地对自己说，我不怕，不</tspan><tspan x="461" y="1573">会的以后可以积极的去学！我一定会珍惜这次</tspan><tspan x="461" y="1589">宝贵的实习机会，在今后的工作中，一定好好</tspan><tspan x="461" y="1605">表现自己，全身心地投入到工作中去，为公司</tspan><tspan x="461" y="1621">明天的发展，贡献自己微薄的力量。！</tspan></text></g>
<g id="b6-3"><rect class="lr" x="455" y="1654" width="256" height="139"/><text class="t"><tspan x="461" y="1672">于是我满怀信心地走进了我现在的工作岗位阳</tspan><tspan x="461" y="1688">光分店！在工作初始阶段中出现了很多的缺憾</tspan><tspan x="461" y="1704">和不完善的地方，但是在店长的指导和同事的</tspan><tspan x="461" y="1720">帮助下，在不断的工作中使我在很多方面得到</tspan><tspan x="461" y="1736">了很大程度的提高。在这个岗位上四个多月的</tspan><tspan x="461" y="1752">工作经历，使我清楚的看到了公司基层员工在</tspan><tspan x="461" y="1768">与客户接触的实际工作情况，为我转岗后的工</tspan><tspan x="461" y="1784">作，打下了坚实的基础。</tspan></text></g>
<g id="b6-4"><rect class="lr" x="455" y="1820" width="256" height="203"/><text class="t"><tspan x="461" y="1838">我是20xx年4月15日进入公司的，至今已有4</tspan><tspan x="461" y="1854">个多月的时间了。这几个月的工作中我总是很</tspan><tspan x="461" y="1870">积极也很认真的完成和做好店长分给我的每项</tspan><tspan x="461" y="1886">工作，因为我知道自己懂得去做的事情很少，</tspan><tspan x="461" y="1902">需要训练。真的非常感谢我的领导和同事们，</tspan><tspan x="461" y="1918">他们给了我很多无私的帮助和指导，让我能够</tspan><tspan x="461" y="1934">在与人相处方面和谈吐做人以及介绍药这几方</tspan><tspan x="461" y="1950">面有了很大的升华！让我在工作的时候顺利很</tspan><tspan x="461" y="1966">多。总结这几个月以来的工作：忙碌伴随着充</tspan><tspan x="461" y="1982">实，汗水伴随着收获。我满怀信心地期待着能</tspan><tspan x="461" y="1998">继续做好以后的工作，我希望领导能给我一个</tspan><tspan x="461" y="2014">转正的机会。</tspan></text></g>
<g id="b6-5"><rect class="lr" x="455" y="2047" width="256" height="123"/><text class="t"><tspan x="461" y="2065">我深知一名公司的营业人员，不仅需要有耐心</tspan><tspan x="461" y="2081">、细心，还要具有较强的责任心，能够为自己</tspan><tspan x="461" y="2097">所做的工作负起责任，并在工作中不断进取，</tspan><tspan x="461" y="2113">努力提高自己的业务素质和专业素质，力争使</tspan><tspan x="461" y="2129">公司的声誉和生意登上一个新的台阶，为公司</tspan><tspan x="461" y="2145">的发展打开一个更加广阔的渠道。我深信我本</tspan><tspan x="461" y="2161">人一定能做到这些！</tspan></text></g>
<g id="b6-6"><rect class="lr" x="455" y="2195" width="256" height="123"/><text class="t"><tspan x="461" y="2213">在实际工作中，我也存在着许多缺点和不足，</tspan><tspan x="461" y="2229">比如介绍药品的经验有限，解决问题时有时缺</tspan><tspan x="461" y="2245">乏果断，偶尔也会被小的挫折影响工作信心。</tspan><tspan x="461" y="2261">认识到不足的同时，我始终坚信，自省是改进</tspan><tspan x="461" y="2277">提高的前提。在今后的工作中，我将努力弥补</tspan><tspan x="461" y="2293">不足，用自己尽心的工作，为公司项目的顺利</tspan><tspan x="461" y="2309">开展，尽一名员工所能做的最大努力。</tspan></text></g>
<g id="b6-7"><rect class="lr" x="663" y="2344" width="48" height="27"/><text class="t" x="669" y="2362">敬礼！</text></g>
<g id="b6-8"><rect class="lr" x="681" y="2398" width="30" height="27"/><text class="t" x="687" y="2416">xxx</text></g>
<g id="b6-9"><rect class="lr" x="644" y="2452" width="67" height="27"/><text class="t" x="650" y="2470">x年x月x日</text></g>
</g>

<!-- Branch 8 -->
<g id="b8"><rect class="bo" x="840" y="2844" width="229" height="37" style="rx:18px"/><text class="bt wh" x="954.5" y="2868.5">网络值班申请书范文 第八篇</text></g>
<g class="lf">
<g id="b8-1"><rect class="lo" x="732" y="2668" width="87" height="27"/><text class="t" x="738" y="2686">尊敬的领导：</text></g>
<g id="b8-1a"><rect class="lo" x="454" y="2507" width="256" height="75"/><text class="t"><tspan x="460" y="2525">我叫xxx，于20xx年10月12日成为公司的试</tspan><tspan x="460" y="2541">用员工，时光荏苒，转眼一个月的试用期即满</tspan><tspan x="460" y="2557">。根据公司的规章制度，现申请转为公司正式</tspan><tspan x="460" y="2573">员工。</tspan></text></g>
<g id="b8-1b"><rect class="lo" x="454" y="2608" width="256" height="107"/><text class="t"><tspan x="460" y="2626">初来公司，曾经很担心不知该如何做好工作。</tspan><tspan x="460" y="2642">是各部门领导和同事的耐心指导和无私帮助，</tspan><tspan x="460" y="2658">使我在较短的时间内适应了公司的工作环境。</tspan><tspan x="460" y="2674">同时，公司宽松融洽的工作氛围、团结向上、</tspan><tspan x="460" y="2690">多姿多彩的企业文化，也让我很快融入并深深</tspan><tspan x="460" y="2706">爱上了我们这个团结友爱、互帮互助的团队。</tspan></text></g>
<g id="b8-1c"><rect class="lo" x="454" y="2740" width="256" height="155"/><text class="t"><tspan x="460" y="2758">在工作中，我一直严格要求自己，认真及时做</tspan><tspan x="460" y="2774">好领导布置的每一项工作，积极参与公司各项</tspan><tspan x="460" y="2790">活动；不懂的问题虚心向同事学习请教，不断</tspan><tspan x="460" y="2806">提高充实自己，为公司做出更大的贡献。工作</tspan><tspan x="460" y="2822">中难免有所不足之处，处理问题的经验也有待</tspan><tspan x="460" y="2838">提高，团队协作能力也要进一步增强；但前事</tspan><tspan x="460" y="2854">之鉴，后事之师，我会在这些锻炼中不断成长</tspan><tspan x="460" y="2870">，更加全面的考虑问题，更加完善的处理工作</tspan><tspan x="460" y="2886">。</tspan></text></g>
<g id="b8-2"><rect class="lo" x="611" y="3034" width="208" height="27"/><text class="t" x="617" y="3052">现将一个多月的工作内容总结如下：</text></g>
<g id="b8-2a"><rect class="lo" x="332" y="2920" width="256" height="43"/><text class="t"><tspan x="338" y="2938">五、参与跳蚤市场的场地布置及当天号码的发</tspan><tspan x="338" y="2954">放；</tspan></text></g>
<g id="b8-2b"><rect class="lo" x="332" y="3131" width="256" height="43"/><text class="t"><tspan x="338" y="3149">六、与企划部和市场部的同事一起到外面发放</tspan><tspan x="338" y="3165">宣传单。</tspan></text></g>
<g id="b8-2b1"><rect class="lo" x="53" y="2990" width="256" height="155"/><text class="t"><tspan x="59" y="3008">这两个月来我学到了很多，感悟了很多；看到</tspan><tspan x="59" y="3024">公司的迅速发展，我深深地感到骄傲和自豪；</tspan><tspan x="59" y="3040">也更加迫切的希望以一名正式员工的身份在这</tspan><tspan x="59" y="3056">里工作，实现自己的奋斗目标，体现自己的工</tspan><tspan x="59" y="3072">作价值，和公司一起成长。在此我提出转正申</tspan><tspan x="59" y="3088">请，恳请领导给我继续锻炼自己、实现理想的</tspan><tspan x="59" y="3104">机会。我会用谦虚的态度、饱满的热情积极努</tspan><tspan x="59" y="3120">力地工作，为公司创造价值，同公司一起展望</tspan><tspan x="59" y="3136">美好的未来！</tspan></text></g>
<g id="b8-2b2"><rect class="lo" x="230" y="3170" width="79" height="27"/><text class="t" x="236" y="3188">申请人：xxx</text></g>
<g id="b8-2b3"><rect class="lo" x="209" y="3225" width="100" height="27"/><text class="t" x="215" y="3243">Xxxx年xx月xx日</text></g>
</g>

<!-- Branch 10 -->
<g id="b10"><rect class="by" x="840" y="3504" width="229" height="37" style="rx:18px"/><text class="bt dk" x="954.5" y="3528.5">网络值班申请书范文 第十篇</text></g>
<g class="lf">
<g id="b10-1"><rect class="ly" x="685" y="3279" width="134" height="27"/><text class="t" x="691" y="3297">关于提高值班补贴请示</text></g>
<g id="b10-2"><rect class="ly" x="584" y="3332" width="235" height="27"/><text class="t" x="590" y="3350">尊敬的四川省阆中盛达经贸连锁公司领导:</text></g>
<g id="b10-3"><rect class="ly" x="563" y="3387" width="256" height="219"/><text class="t"><tspan x="569" y="3405">我管理公司管理层现在每人每月大约有6天左</tspan><tspan x="569" y="3421">右的值班时间，值班期间的上班时间一般在1</tspan><tspan x="569" y="3437">3个小时以上。按照《劳动法》的相关规定，</tspan><tspan x="569" y="3453">超过正常上班的加班时间，一是采取正常补假</tspan><tspan x="569" y="3469">的办法解决，二是采取计发加班补贴的办法解</tspan><tspan x="569" y="3485">决。鉴于管理公司人手少，正常补假将造成值</tspan><tspan x="569" y="3501">班空缺，管理脱岗。为了防止出现管理失控，</tspan><tspan x="569" y="3517">又让加班人员心服口服，同时也为了认真落实</tspan><tspan x="569" y="3533">《劳动法》的相关规定，加班实行补贴制度。</tspan><tspan x="569" y="3549">截止目前值班补贴仅为15元/天。在当前物价</tspan><tspan x="569" y="3565">不断上涨，工资，津补贴不断提高的形势下，</tspan><tspan x="569" y="3581">特向领导申请将值班补贴提高到每人每天30</tspan><tspan x="569" y="3597">元。</tspan></text></g>
<g id="b10-4"><rect class="ly" x="730" y="3630" width="89" height="27"/><text class="t" x="736" y="3648">妥否，请批示!</text></g>
<g id="b10-5"><rect class="ly" x="648" y="3684" width="171" height="27"/><text class="t" x="654" y="3702">好邻居惠民购物城管理分公司</text></g>
<g id="b10-6"><rect class="ly" x="729" y="3738" width="90" height="27"/><text class="t" x="735" y="3756">201_年4月6日</text></g>
</g>
</svg>
